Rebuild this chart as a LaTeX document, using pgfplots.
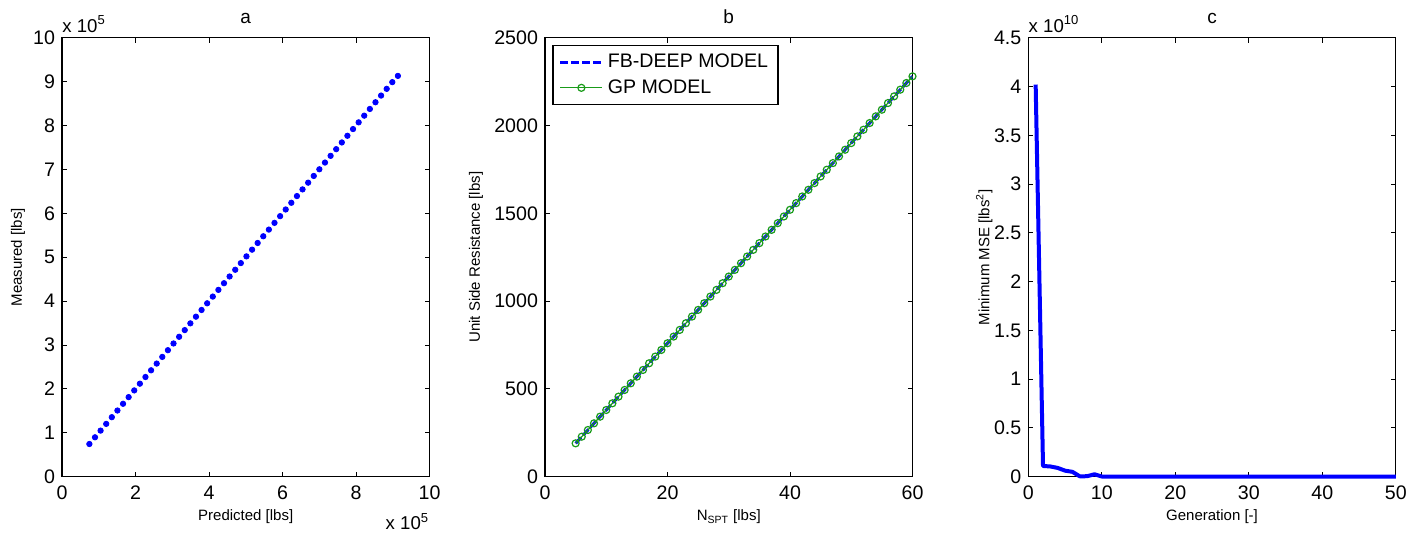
\documentclass[border=0pt]{standalone}
\usepackage{fontspec}
\setmainfont{Liberation Sans}
\usepackage{pgfplots}
\pgfplotsset{compat=1.18}
\definecolor{gpgreen}{RGB}{25,155,25}
\tikzset{scalelab/.style={font=\fontsize{9.3}{10}\selectfont, inner sep=0pt}}
\pgfplotsset{
  matlab/.style={
    scale only axis, width=183.75pt, height=219.5pt,
    axis line style={line width=0.6pt},
    every tick/.style={line width=0.5pt, black},
    major tick length=2.5pt,
    tick align=inside,
    ticklabel style={font=\fontsize{9.8}{11}\selectfont},
    xticklabel style={yshift=-1.2pt},
    /pgf/number format/assume math mode=true,
    /pgf/number format/1000 sep={},
    scaled ticks=false,
    label style={font=\fontsize{7.5}{9}\selectfont},
    title style={font=\fontsize{9.5}{10}\selectfont, at={(axis description cs:0.5,1)}, anchor=base, yshift=1.2pt},
    xlabel style={at={(axis description cs:0.5,-0.091)}, anchor=center},
    ylabel style={at={(axis description cs:-0.12,0.5)}, anchor=center},
  },
}
\begin{document}
\begin{tikzpicture}
\path[use as bounding box] (0pt,0pt) rectangle (706pt,266pt);

% ---------- panel a ----------
\begin{axis}[matlab, at={(31pt,27.65pt)}, anchor=south west, clip=false,
  xmin=0, xmax=1000000, ymin=0, ymax=1000000,
  xtick={0,200000,400000,600000,800000,1000000},
  xticklabels={0,2,4,6,8,10},
  ytick={0,100000,200000,300000,400000,500000,600000,700000,800000,900000,1000000},
  yticklabels={0,1,2,3,4,5,6,7,8,9,10},
  xlabel={Predicted [lbs]}, ylabel={Measured [lbs]}, title={a}]
\addplot[only marks, mark=*, mark size=1.35pt, mark options={draw=blue, fill=blue}] coordinates {
(74500,74500) (89800,89800) (105000,105000) (120300,120300) (135600,135600)
(150800,150800) (166100,166100) (181300,181300) (196600,196600) (211900,211900)
(227100,227100) (242400,242400) (257700,257700) (272900,272900) (288200,288200)
(303500,303500) (318700,318700) (334000,334000) (349300,349300) (364500,364500)
(379800,379800) (395000,395000) (410300,410300) (425600,425600) (440800,440800)
(456100,456100) (471400,471400) (486600,486600) (501900,501900) (517200,517200)
(532400,532400) (547700,547700) (562900,562900) (578200,578200) (593500,593500)
(608700,608700) (624000,624000) (639300,639300) (654500,654500) (669800,669800)
(685100,685100) (700300,700300) (715600,715600) (730900,730900) (746100,746100)
(761400,761400) (776600,776600) (791900,791900) (807200,807200) (822400,822400)
(837700,837700) (853000,853000) (868200,868200) (883500,883500) (898800,898800)
(914000,913000)
};
\node[scalelab, anchor=base west] at (rel axis cs:0,1) [yshift=2.8pt] {x 10\textsuperscript{5}};
\node[scalelab, anchor=base east] at (rel axis cs:1,0) [yshift=-26.5pt] {x 10\textsuperscript{5}};
\end{axis}

% ---------- panel b ----------
\begin{axis}[matlab, at={(272.5pt,27.65pt)}, anchor=south west,
  xmin=0, xmax=60, ymin=0, ymax=2500,
  xtick={0,20,40,60},
  ytick={0,500,1000,1500,2000,2500},
  ylabel style={at={(axis description cs:-0.188,0.5)}},
  xlabel={N\textsubscript{SPT} [lbs]}, ylabel={Unit Side Resistance [lbs]}, title={b},
  legend style={at={(rel axis cs:0,1)}, anchor=north west, xshift=3.65pt, yshift=-3.75pt,
    draw=black, line width=0.6pt, font=\fontsize{9.8}{11}\selectfont,
    inner xsep=3pt, inner ysep=2pt, row sep=0.5pt, cells={anchor=west}},
  legend image code/.code={\draw[mark repeat=2,mark phase=2,#1] plot coordinates {(0pt,0pt) (10.5pt,0pt) (21pt,0pt)};}]
\addplot[blue, line width=1.5pt, dash pattern=on 4pt off 1.5pt] coordinates {
(5,190) (6,228) (7,266) (8,304) (9,342) (10,380) (11,418) (12,456) (13,494) (14,532)
(15,570) (16,608) (17,646) (18,684) (19,722) (20,760) (21,798) (22,836) (23,874) (24,912)
(25,950) (26,988) (27,1026) (28,1064) (29,1102) (30,1140) (31,1178) (32,1216) (33,1254) (34,1292)
(35,1330) (36,1368) (37,1406) (38,1444) (39,1482) (40,1520) (41,1558) (42,1596) (43,1634) (44,1672)
(45,1710) (46,1748) (47,1786) (48,1824) (49,1862) (50,1900) (51,1938) (52,1976) (53,2014) (54,2052)
(55,2090) (56,2128) (57,2166) (58,2204) (59,2242) (60,2280)
};
\addlegendentry{FB-DEEP MODEL}
\addplot[gpgreen, line width=0.6pt, mark=o, mark size=1.75pt, mark options={solid, line width=0.6pt}] coordinates {
(5,190) (6,228) (7,266) (8,304) (9,342) (10,380) (11,418) (12,456) (13,494) (14,532)
(15,570) (16,608) (17,646) (18,684) (19,722) (20,760) (21,798) (22,836) (23,874) (24,912)
(25,950) (26,988) (27,1026) (28,1064) (29,1102) (30,1140) (31,1178) (32,1216) (33,1254) (34,1292)
(35,1330) (36,1368) (37,1406) (38,1444) (39,1482) (40,1520) (41,1558) (42,1596) (43,1634) (44,1672)
(45,1710) (46,1748) (47,1786) (48,1824) (49,1862) (50,1900) (51,1938) (52,1976) (53,2014) (54,2052)
(55,2090) (56,2128) (57,2166) (58,2204) (59,2242) (60,2280)
};
\addlegendentry{GP MODEL}
\end{axis}

% ---------- panel c ----------
\begin{axis}[matlab, at={(514.15pt,27.65pt)}, anchor=south west, clip=false,
  xmin=0, xmax=50, ymin=0, ymax=4.5e10,
  xtick={0,10,20,30,40,50},
  ytick={0,0.5e10,1e10,1.5e10,2e10,2.5e10,3e10,3.5e10,4e10,4.5e10},
  yticklabels={0,0.5,1,1.5,2,2.5,3,3.5,4,4.5},
  xlabel={Generation [-]}, ylabel={Minimum MSE [lbs\textsuperscript{2}]}, title={c}]
\addplot[blue, line width=2pt, line join=round] coordinates {
(1,4.02e10) (2,0.11e10) (3,0.105e10) (4,0.09e10) (5,0.062e10) (6,0.05e10)
(7,0.004e10) (8,0.005e10) (9,0.025e10) (10,0.002e10) (11,0) (12,0) (13,0) (14,0) (15,0)
(16,0) (17,0) (18,0) (19,0) (20,0) (21,0) (22,0) (23,0) (24,0) (25,0)
(26,0) (27,0) (28,0) (29,0) (30,0) (31,0) (32,0) (33,0) (34,0) (35,0)
(36,0) (37,0) (38,0) (39,0) (40,0) (41,0) (42,0) (43,0) (44,0) (45,0)
(46,0) (47,0) (48,0) (49,0) (50,0)
};
\node[scalelab, anchor=base west] at (rel axis cs:0,1) [yshift=2.8pt] {x 10\textsuperscript{10}};
\end{axis}
\end{tikzpicture}
\end{document}
